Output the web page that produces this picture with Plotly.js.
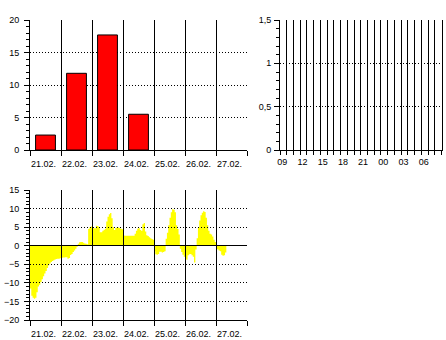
<!DOCTYPE html>
<html><head><meta charset="utf-8">
<script src="https://cdn.plot.ly/plotly-3.0.1.min.js"></script>
<style>html,body{margin:0;padding:0;background:#fff}#chart{width:446px;height:340px}</style>
</head><body><div id="chart"></div>
<script>
// ---- data ----
const days = ['21.02.','22.02.','23.02.','24.02.','25.02.','26.02.','27.02.'];
const dailyPrecip = [2.3, 11.8, 17.7, 5.5, null, null, null];
const hourLabels = ['09','12','15','18','21','00','03','06'];
const precip3h = [0, 0, 0, 0, 0, 0, 0, 0];
// hourly temperature from 21.02. 00:00
const hourlyTemp = [
 -11.5,-13.5,-14,-14.3,-14,-12.5,-11,-10.5,-9.8,-9,-8.2,-7.5,-6.8,-6,-5.3,-4.8,-4.4,-4.1,-3.9,-3.7,-3.6,-3.5,-3.5,-3.4,
 -3.3,-3.2,-3.2,-3.1,-3.1,-3.5,-3.3,-2.5,-2.2,-1.7,-1.3,-0.8,-0.3,0.5,0.9,1.0,1.0,0.8,0.6,0.5,0.4,4.5,5.0,5.2,
 4.8,4.7,4.7,5.4,5.3,5.0,3.6,3.6,4.0,4.3,4.6,6.5,7.8,8.5,8.8,7.4,5.0,4.2,4.8,4.9,4.9,4.8,4.6,4.4,
 2.8,2.7,2.7,2.7,2.7,2.7,2.7,2.7,2.7,3.2,4.0,4.6,4.8,4.2,4.0,5.8,6.1,3.8,2.8,2.6,2.3,2.0,1.8,1.6,
 -1.5,-2.3,-2.4,-2.2,-1.6,-1.6,-1.8,-1.7,-1.5,1.9,3.5,5.5,7.5,9.0,9.8,9.7,9.0,5.5,4.5,3.0,-0.8,-1.7,-2.4,-3.0,
 -3.5,-3.8,-2.6,-2.3,-2.2,-2.6,-3.0,-4.5,-1.0,2.0,4.8,6.8,8.2,8.9,9.3,9.1,7.5,5.5,4.0,3.2,3.0,2.5,1.6,1.0,
 -0.9,-1.0,-1.3,-1.5,-2.4,-2.7,-2.6,-1.8
];
const precipTicks = [0, 5, 10, 15, 20];
const precip3hTicks = [0, 0.5, 1, 1.5];
const tempTicks = [-20, -15, -10, -5, 0, 5, 10, 15];

// ---- geometry helpers ----
const W = 446, H = 340;
const dx = (a, b) => [a / W, b / W];
const dy = (top, bottom) => [1 - bottom / H, 1 - top / H];
const FONT = {family: '"Liberation Sans", Arial, sans-serif', size: 9, color: '#000'};
const DOT = '1px,2px';

const dayIdx = days.map((d, i) => i);
const dayHourCenters = days.map((d, i) => 24 * i + 12);
const slotCenters = hourLabels.map((d, i) => 3 * i + 0.5);

// zero 3h precipitation bars drawn as outlines
const segX = [], segY = [];
precip3h.forEach((v, i) => { segX.push(3 * i, 3 * i + 1, null); segY.push(v, v, null); });

const tx = hourlyTemp.map((v, i) => i).concat([hourlyTemp.length]);
const ty = hourlyTemp.concat([hourlyTemp[hourlyTemp.length - 1]]);

const traces = [
  {type: 'bar', x: dayIdx, y: dailyPrecip, width: 0.64, xaxis: 'x', yaxis: 'y',
   marker: {color: '#ff0000', line: {color: '#000', width: 1}}, hoverinfo: 'skip'},
  {type: 'scatter', mode: 'lines', x: [], y: [], xaxis: 'x2', yaxis: 'y2', hoverinfo: 'skip'},
  {type: 'scatter', mode: 'lines', x: segX, y: segY, xaxis: 'x2', yaxis: 'y4', cliponaxis: false,
   line: {color: '#000', width: 1}, hoverinfo: 'skip'},
  {type: 'scatter', mode: 'lines', x: tx, y: ty, xaxis: 'x3', yaxis: 'y3', fill: 'tozeroy',
   fillcolor: '#ffff00', line: {color: '#ffff00', width: 0, shape: 'hv'}, hoverinfo: 'skip'},
  // grid-only subplot drawn above the temperature fill
  {type: 'scatter', mode: 'lines', x: [], y: [], xaxis: 'x4', yaxis: 'y5', hoverinfo: 'skip'}
];

const baseAxis = {showline: true, linecolor: '#000', linewidth: 1, zeroline: false,
  tickfont: FONT, tickcolor: '#000', fixedrange: true};

const layout = {
  width: W, height: H, margin: {l: 0, r: 0, t: 0, b: 0},
  paper_bgcolor: '#fff', plot_bgcolor: 'rgba(0,0,0,0)', showlegend: false, separators: ', ',
  font: FONT, bargap: 0,
  xaxis: Object.assign({}, baseAxis, {domain: dx(30, 247), anchor: 'y', range: [-0.5, 6.5],
    tickmode: 'array', tickvals: dayIdx, ticktext: days, ticks: '', showgrid: false,
    ticklabelstandoff: 5, ticklabelshift: -2,
    minor: {tickmode: 'linear', tick0: -0.5, dtick: 1, ticks: 'outside', ticklen: 5, tickcolor: '#000',
      showgrid: true, gridcolor: '#000', gridwidth: 1}}),
  yaxis: Object.assign({}, baseAxis, {domain: dy(20, 150), anchor: 'x', range: [0, 20],
    tickmode: 'array', tickvals: precipTicks, ticks: 'outside', ticklen: 5,
    showgrid: true, gridcolor: '#000', griddash: DOT, gridwidth: 1, ticklabelstandoff: 3,
    minor: {tickmode: 'linear', tick0: 0, dtick: 1, ticks: 'outside', ticklen: 3, tickcolor: '#000', showgrid: false}}),
  xaxis2: Object.assign({}, baseAxis, {domain: dx(280, 441.5), anchor: 'y2', range: [0, 24],
    tickmode: 'array', tickvals: slotCenters, ticktext: hourLabels, ticks: '', showgrid: false,
    ticklabelstandoff: 3, ticklabelshift: -1,
    minor: {tickmode: 'linear', tick0: 0, dtick: 1, ticks: 'outside', ticklen: 4, tickcolor: '#000',
      showgrid: true, gridcolor: '#000', gridwidth: 1}}),
  yaxis2: Object.assign({}, baseAxis, {domain: dy(20, 150), anchor: 'x2', range: [0, 1.5],
    tickmode: 'array', tickvals: precip3hTicks, ticks: 'outside', ticklen: 5, mirror: true,
    showgrid: true, gridcolor: '#000', griddash: DOT, gridwidth: 1, ticklabelstandoff: 1,
    minor: {tickmode: 'linear', tick0: 0, dtick: 0.1, ticks: 'outside', ticklen: 3, tickcolor: '#000', showgrid: false}}),
  yaxis4: {overlaying: 'y2', anchor: 'x2', range: [0.0231, 1.5231], visible: false, fixedrange: true},
  xaxis3: Object.assign({}, baseAxis, {domain: dx(30, 247), anchor: 'y3', range: [0, 168],
    tickmode: 'array', tickvals: dayHourCenters, ticktext: days, ticks: '', showgrid: false,
    ticklabelstandoff: 5, ticklabelshift: -2,
    minor: {tickmode: 'linear', tick0: 0, dtick: 24, ticks: 'outside', ticklen: 5, tickcolor: '#000', showgrid: false}}),
  yaxis3: Object.assign({}, baseAxis, {domain: dy(190, 320), anchor: 'x3', range: [-20, 15],
    tickmode: 'array', tickvals: tempTicks, ticks: 'outside', ticklen: 5, showgrid: false, ticklabelstandoff: 3,
    minor: {tickmode: 'linear', tick0: 0, dtick: 1, ticks: 'outside', ticklen: 3, tickcolor: '#000', showgrid: false}}),
  xaxis4: {domain: dx(30, 247), anchor: 'y5', range: [0, 168], showline: false, zeroline: false,
    showticklabels: false, ticks: '', tickmode: 'linear', tick0: 0, dtick: 24,
    showgrid: true, gridcolor: '#000', gridwidth: 1, fixedrange: true},
  yaxis5: {domain: dy(190, 320), anchor: 'x4', range: [-20, 15], showline: false,
    showticklabels: false, ticks: '', tickmode: 'array', tickvals: tempTicks,
    showgrid: true, gridcolor: '#000', griddash: DOT, gridwidth: 1,
    zeroline: true, zerolinecolor: '#000', zerolinewidth: 1, fixedrange: true}
};

Plotly.newPlot('chart', traces, layout, {staticPlot: true, displayModeBar: false});
</script></body></html>
